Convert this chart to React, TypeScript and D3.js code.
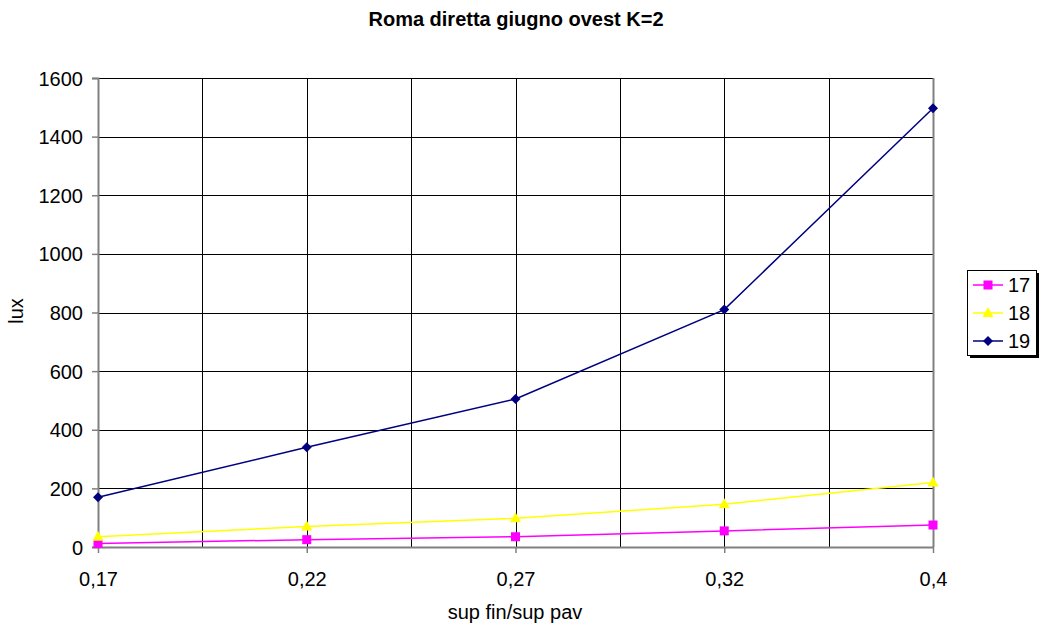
import React, { useEffect, useRef } from 'react';
import * as d3 from 'd3';

const categories = ['0,17', '0,22', '0,27', '0,32', '0,4'];
const series17 = [12, 25, 35, 55, 75];
const series18 = [35, 70, 98, 146, 220];
const series19 = [170, 340, 505, 810, 1497];
const yTicks = [0, 200, 400, 600, 800, 1000, 1200, 1400, 1600];

const seriesList = [
  { name: '17', values: series17, color: '#FF00FF', marker: 'square' },
  { name: '18', values: series18, color: '#FFFF00', marker: 'triangle' },
  { name: '19', values: series19, color: '#000080', marker: 'diamond' },
];

const width = 1043;
const height = 628;

const App: React.FC = () => {
  const svgRef = useRef<SVGSVGElement>(null);

  useEffect(() => {
    if (!svgRef.current) return;
    const svg = d3.select(svgRef.current);
    svg.selectAll('*').remove();

    const margin = { top: 78, right: 110, bottom: 81, left: 98 };
    const chartWidth = width - margin.left - margin.right;
    const chartHeight = height - margin.top - margin.bottom;
    const font = '"Liberation Sans", Arial, sans-serif';

    const xScale = d3.scalePoint<string>()
      .domain(categories)
      .range([0, chartWidth]);

    const yScale = d3.scaleLinear()
      .domain([0, 1600])
      .range([chartHeight, 0]);

    svg.append('rect').attr('width', width).attr('height', height).attr('fill', '#fff');

    const g = svg.append('g')
      .attr('transform', `translate(${margin.left}, ${margin.top})`);

    // horizontal gridlines
    g.selectAll('.hgrid')
      .data(yTicks.filter(d => d > 0))
      .enter()
      .append('line')
      .attr('x1', 0)
      .attr('x2', chartWidth)
      .attr('y1', d => Math.round(yScale(d)) + 0.5)
      .attr('y2', d => Math.round(yScale(d)) + 0.5)
      .attr('stroke', '#000')
      .attr('stroke-width', 1);

    // vertical gridlines at categories and half-steps
    const step = xScale.step();
    const vgrid = d3.range(1, categories.length * 2 - 1).map(i => i * step / 2);
    g.selectAll('.vgrid')
      .data(vgrid)
      .enter()
      .append('line')
      .attr('x1', d => Math.round(d) + 0.5)
      .attr('x2', d => Math.round(d) + 0.5)
      .attr('y1', 0)
      .attr('y2', chartHeight)
      .attr('stroke', d => (d >= chartWidth - 1 ? '#808080' : '#000'))
      .attr('stroke-width', d => (d >= chartWidth - 1 ? 2 : 1));

    // axes
    const yAxis = g.append('g')
      .call(d3.axisLeft(yScale).tickValues(yTicks).tickSize(6).tickFormat(d => String(d)));
    yAxis.attr('font-size', null).attr('font-family', null);
    yAxis.select('.domain').attr('stroke', '#808080').attr('stroke-width', 2);
    yAxis.selectAll('line').attr('stroke', '#808080').attr('stroke-width', 1.5);
    yAxis.selectAll('text')
      .attr('x', -15)
      .attr('dy', '0.35em')
      .style('font-family', font)
      .style('font-size', '20px')
      .attr('fill', '#000');

    const xAxis = g.append('g')
      .attr('transform', `translate(0, ${chartHeight})`)
      .call(d3.axisBottom(xScale).tickSize(6).tickSizeOuter(0));
    xAxis.attr('font-size', null).attr('font-family', null);
    xAxis.select('.domain').attr('stroke', '#808080').attr('stroke-width', 2);
    xAxis.selectAll('line').attr('stroke', '#808080').attr('stroke-width', 1.5);
    xAxis.selectAll('text')
      .attr('y', 39)
      .attr('dy', null)
      .style('font-family', font)
      .style('font-size', '20px')
      .attr('fill', '#000');

    // lines and markers
    const markerPath = (type: string) => {
      if (type === 'square') return 'M-4.5,-4.5H4.5V4.5H-4.5Z';
      if (type === 'triangle') return 'M0,-6L5.5,4H-5.5Z';
      return 'M0,-5L5,0L0,5L-5,0Z';
    };

    const line = d3.line<number>()
      .x((_, i) => xScale(categories[i]) || 0)
      .y(d => yScale(d));

    seriesList.forEach(s => {
      g.append('path')
        .datum(s.values)
        .attr('fill', 'none')
        .attr('stroke', s.color)
        .attr('stroke-width', 1.5)
        .attr('d', line);
      g.selectAll(`.m${s.name}`)
        .data(s.values)
        .enter()
        .append('path')
        .attr('transform', (d, i) => `translate(${xScale(categories[i])}, ${yScale(d)})`)
        .attr('d', markerPath(s.marker))
        .attr('fill', s.color);
    });

    // title and axis labels
    svg.append('text')
      .attr('x', 516)
      .attr('y', 26)
      .attr('text-anchor', 'middle')
      .style('font-family', font)
      .style('font-size', '20px')
      .style('font-weight', 'bold')
      .text('Roma diretta giugno ovest K=2');

    svg.append('text')
      .attr('transform', 'rotate(-90)')
      .attr('x', -311)
      .attr('y', 23)
      .attr('text-anchor', 'middle')
      .style('font-family', font)
      .style('font-size', '20px')
      .text('lux');

    svg.append('text')
      .attr('x', 515)
      .attr('y', 619)
      .attr('text-anchor', 'middle')
      .style('font-family', font)
      .style('font-size', '20px')
      .text('sup fin/sup pav');

    // legend
    const lx = 967, ly = 270, lw = 69, lh = 85;
    svg.append('rect')
      .attr('x', lx + 3).attr('y', ly + 3).attr('width', lw).attr('height', lh)
      .attr('fill', '#000');
    svg.append('rect')
      .attr('x', lx + 0.5).attr('y', ly + 0.5).attr('width', lw).attr('height', lh)
      .attr('fill', '#fff').attr('stroke', '#000').attr('stroke-width', 1);

    const leg = svg.selectAll('.leg')
      .data(seriesList)
      .enter()
      .append('g')
      .attr('transform', (_, i) => `translate(${lx}, ${ly + 15 + i * 28})`);
    leg.append('line')
      .attr('x1', 6).attr('x2', 36).attr('y1', 0).attr('y2', 0)
      .attr('stroke', d => d.color).attr('stroke-width', 1.5);
    leg.append('path')
      .attr('transform', 'translate(21, 0)')
      .attr('d', d => markerPath(d.marker))
      .attr('fill', d => d.color);
    leg.append('text')
      .attr('x', 41)
      .attr('y', 7)
      .style('font-family', font)
      .style('font-size', '20px')
      .text(d => d.name);
  }, []);

  return (
    <svg
      ref={svgRef}
      width={width}
      height={height}
      style={{ position: 'absolute', left: 0, top: 0, display: 'block' }}
    />
  );
};

export default App;
